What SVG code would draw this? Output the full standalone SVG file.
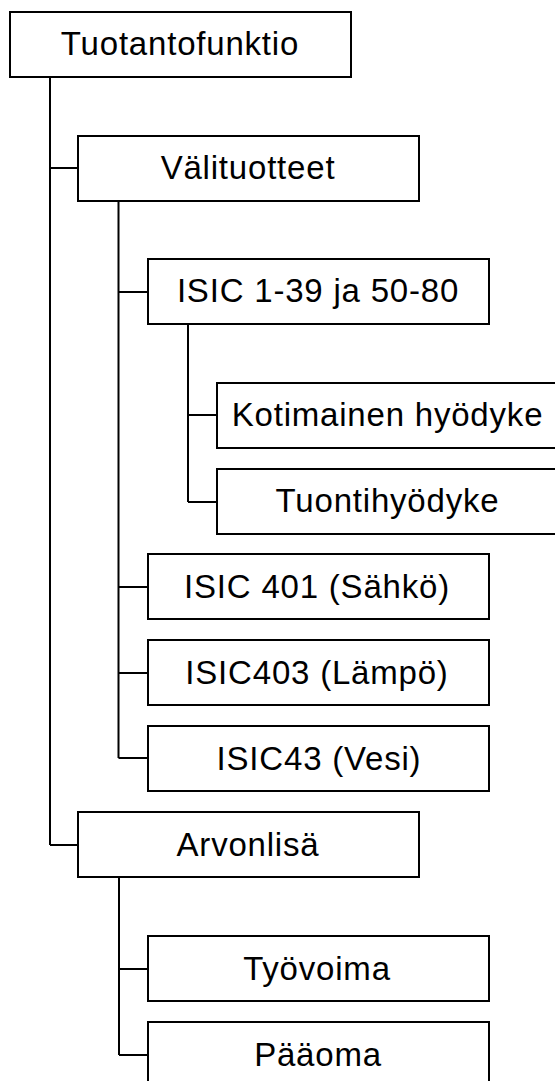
<svg xmlns="http://www.w3.org/2000/svg" width="555" height="1081" viewBox="0 0 555 1081">
<style>
rect{fill:#fff;stroke:#000;stroke-width:2}
text{font-family:"Liberation Sans",Arial,sans-serif;font-size:33px;letter-spacing:0.8px;text-anchor:middle;fill:#000}
.c{fill:none;stroke:#000;stroke-width:2}
</style>
<rect width="555" height="1081" style="stroke:none"/>
<g id="connectors">
<path class="c" d="M50,77V845M50,168H78M50,845H78"/>
<path class="c" d="M118.5,201V758M118.5,292H148M118.5,587H148M118.5,673H148M118.5,758H148"/>
<path class="c" d="M188,324V502M188,415H217M188,502H217"/>
<path class="c" d="M119,877V1055M119,969H148M119,1055H148"/>
</g>
<g id="n1"><rect x="10" y="12" width="341" height="65"/><text x="180" y="55">Tuotantofunktio</text></g>
<g id="n2"><rect x="78" y="136" width="341" height="65"/><text x="248" y="179">Välituotteet</text></g>
<g id="n3"><rect x="148" y="259" width="341" height="65"/><text x="318" y="302">ISIC 1-39 ja 50-80</text></g>
<g id="n4"><rect x="217" y="383" width="341" height="65"/><text x="387.5" y="426">Kotimainen hyödyke</text></g>
<g id="n5"><rect x="217" y="469" width="341" height="65"/><text x="387.5" y="512">Tuontihyödyke</text></g>
<g id="n6"><rect x="148" y="554" width="341" height="65"/><text x="317" y="598">ISIC 401 (Sähkö)</text></g>
<g id="n7"><rect x="148" y="640" width="341" height="65"/><text x="317" y="684">ISIC403 (Lämpö)</text></g>
<g id="n8"><rect x="148" y="726" width="341" height="65"/><text x="319" y="770">ISIC43 (Vesi)</text></g>
<g id="n9"><rect x="78" y="812" width="341" height="65"/><text x="248" y="856">Arvonlisä</text></g>
<g id="n10"><rect x="148" y="936" width="341" height="65"/><text x="317" y="980">Työvoima</text></g>
<g id="n11"><rect x="148" y="1022" width="341" height="65"/><text x="318" y="1066">Pääoma</text></g>
</svg>
